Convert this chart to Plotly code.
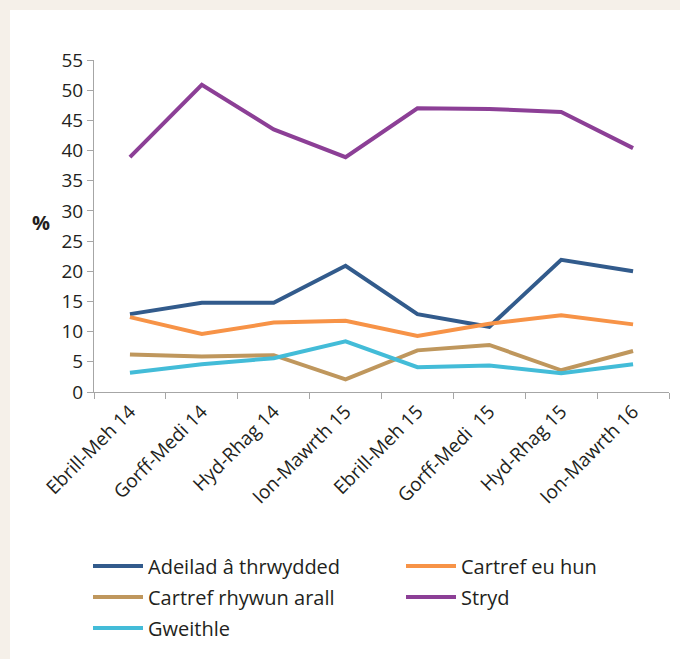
import plotly.graph_objects as go

categories = ["Ebrill-Meh 14", "Gorff-Medi 14", "Hyd-Rhag 14", "Ion-Mawrth 15",
              "Ebrill-Meh 15", "Gorff-Medi  15", "Hyd-Rhag 15", "Ion-Mawrth 16"]
adeilad = [12.9, 14.8, 14.8, 20.9, 12.9, 10.8, 21.9, 20.0]
cartref_eu_hun = [12.4, 9.6, 11.5, 11.8, 9.3, 11.3, 12.7, 11.2]
cartref_rhywun = [6.2, 5.9, 6.1, 2.1, 6.9, 7.8, 3.6, 6.8]
stryd = [38.9, 50.9, 43.5, 38.9, 47.0, 46.9, 46.4, 40.4]
gweithle = [3.2, 4.6, 5.6, 8.4, 4.1, 4.4, 3.1, 4.6]
y_ticks = list(range(0, 56, 5))

# name, values, colour, legend row, legend column
series = [
    ("Adeilad â thrwydded", adeilad, "#325b8c", "legend", 0),
    ("Cartref eu hun", cartref_eu_hun, "#f79347", "legend", 1),
    ("Cartref rhywun arall", cartref_rhywun, "#bf975d", "legend2", 0),
    ("Stryd", stryd, "#8c3f96", "legend2", 1),
    ("Gweithle", gweithle, "#43bcd8", "legend3", 0),
]

fig = go.Figure()
for name, vals, col, leg, c in series:
    fig.add_trace(go.Scatter(x=categories, y=vals, name=name, mode="lines",
                             line=dict(color=col, width=4), legend=leg,
                             legendwidth=248 if c == 0 else 180))

txt = "#231f20"
beige = "#f5f0e9"
L, R, T, B = 94, 11, 60, 267
W, H = 680, 659
pw, ph = W - L - R, H - T - B

def px_x(v):
    return (v - L) / pw

def px_y(v):
    return (T + ph - v) / ph

def leg(ytop):
    return dict(orientation="h", x=px_x(88), xanchor="left",
                y=px_y(ytop), yanchor="top", itemwidth=50,
                bgcolor="rgba(0,0,0,0)", font=dict(size=20, color=txt))

fig.update_layout(
    width=W, height=H,
    paper_bgcolor="white", plot_bgcolor="rgba(0,0,0,0)",
    margin=dict(l=L, r=R, t=T, b=B),
    font=dict(family="Open Sans", color=txt),
    showlegend=True,
    legend=leg(546.5), legend2=leg(577.5), legend3=leg(608.5),
    xaxis=dict(showgrid=False, showline=True, linecolor="#a6a6a6", linewidth=1,
               ticks="outside", tickcolor="#a6a6a6", ticklen=6, tickson="boundaries",
               tickangle=-45, tickfont=dict(size=19, color=txt), range=[-0.5, 7.5]),
    yaxis=dict(showgrid=False, showline=True, linecolor="#a6a6a6", linewidth=1,
               ticks="outside", tickcolor="#a6a6a6", ticklen=6, tickvals=y_ticks,
               range=[0, 55], tickfont=dict(size=19, color=txt), zeroline=False),
    shapes=[
        dict(type="rect", xref="paper", yref="paper", layer="below",
             x0=px_x(0), x1=px_x(W), y0=px_y(0), y1=px_y(10),
             fillcolor=beige, line=dict(width=0)),
        dict(type="rect", xref="paper", yref="paper", layer="below",
             x0=px_x(0), x1=px_x(10), y0=px_y(H), y1=px_y(0),
             fillcolor=beige, line=dict(width=0)),
    ],
    annotations=[dict(text="<b>%</b>", xref="paper", yref="paper",
                      x=px_x(41), y=px_y(222), showarrow=False,
                      xanchor="center", yanchor="middle",
                      font=dict(size=20, color=txt))],
)
fig.write_html("out.html", config={"displayModeBar": False},
               post_script="document.body.style.margin='0';document.body.style.overflow='hidden';")
